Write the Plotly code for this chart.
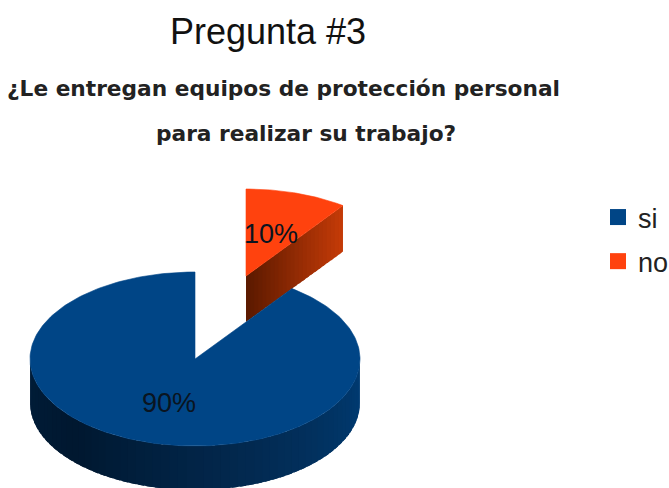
import numpy as np
import plotly.graph_objects as go

categories = ["si", "no"]
values = [90, 10]
colors = ["#004586", "#ff420e"]
title = "Pregunta #3"
subtitle = ["¿Le entregan equipos de protección personal", "para realizar su trabajo?"]

W, H = 669, 488
RX, RY, DEPTH, DEPTH_NO = 165, 87, 44, 46
CENTERS = {"si": (195, 359), "no": (246, 276)}
LABEL_POS = {"si": (169, 405), "no": (271, 236)}

BLUE_SIDE_ANGLES = [90, 130, 180, 225, 270]
BLUE_SIDE_RGB = [(0, 60, 116), (2, 50, 96), (2, 36, 70), (0, 24, 48), (0, 30, 58)]
ORANGE_FACE_RGB = [(92, 26, 0), (200, 60, 8)]

total = sum(values)
ends = np.cumsum(values) / total * 360
# 'no' runs clockwise from 12 o'clock; 'si' fills the remaining turn
spans = {"no": (0.0, float(ends[1] - ends[0])), "si": (float(ends[1] - ends[0]), 360.0)}


def rim(center, theta_deg, drop=0):
    t = np.radians(theta_deg)
    return center[0] + RX * np.sin(t), center[1] - RY * np.cos(t) + drop


fig = go.Figure()


def poly(xs, ys, color, name=None, lw=0.6):
    fig.add_trace(go.Scatter(
        x=list(xs) + [xs[0]], y=list(ys) + [ys[0]], mode="lines", fill="toself",
        fillcolor=color, line=dict(color=color, width=lw),
        hoverinfo="skip", showlegend=False, name=name))


# orange wedge: cut face with gradient, then top
c_no = CENTERS["no"]
a0, a1 = spans["no"]
rx1, ry1 = rim(c_no, a1)
n = 24
for i in range(n):
    f0, f1 = i / n, (i + 1.6) / n
    f1 = min(f1, 1)
    xa, ya = c_no[0] + (rx1 - c_no[0]) * f0, c_no[1] + (ry1 - c_no[1]) * f0
    xb, yb = c_no[0] + (rx1 - c_no[0]) * f1, c_no[1] + (ry1 - c_no[1]) * f1
    col = [int(ORANGE_FACE_RGB[0][k] + (ORANGE_FACE_RGB[1][k] - ORANGE_FACE_RGB[0][k]) * f0) for k in range(3)]
    poly([xa, xb, xb, xa], [ya, yb, yb + DEPTH_NO, ya + DEPTH_NO], f"rgb({col[0]},{col[1]},{col[2]})", lw=0)
th = np.linspace(a0, a1, 40)
px, py = rim(c_no, th)
poly([c_no[0]] + list(px), [c_no[1]] + list(py), colors[1], "no")

# blue wedge: outer side with gradient, then top
c_si = CENTERS["si"]
b0, b1 = spans["si"]
step = 3
for a in np.arange(90, 270, step):
    x0, y0 = rim(c_si, a)
    x1, y1 = rim(c_si, a + step * 1.7)
    col = [int(np.interp(a, BLUE_SIDE_ANGLES, [c[k] for c in BLUE_SIDE_RGB])) for k in range(3)]
    poly([x0, x1, x1, x0], [y0, y1, y1 + DEPTH, y0 + DEPTH], f"rgb({col[0]},{col[1]},{col[2]})", lw=0)
th = np.linspace(b0, b1, 240)
px, py = rim(c_si, th)
poly([c_si[0]] + list(px), [c_si[1]] + list(py), colors[0], "si")

# percent labels
for cat, val in zip(categories, values):
    lx, ly = LABEL_POS[cat]
    fig.add_trace(go.Scatter(
        x=[lx], y=[ly], mode="text", text=[f"{round(val / total * 100)}%"],
        textposition="middle center", hoverinfo="skip", showlegend=False,
        textfont=dict(family="Liberation Sans", size=27, color="#0a1420")))

# legend entries
for i, (cat, col) in enumerate(zip(categories, colors)):
    fig.add_trace(go.Scatter(
        x=[None], y=[None], mode="markers", name=cat, legendgroup=cat,
        marker=dict(symbol="square", size=19, color=col)))

fig.add_annotation(x=283, y=88, xref="x", yref="y", text=f"<b>{subtitle[0]}</b>", showarrow=False,
                   font=dict(family="DejaVu Sans", size=21.7, color="#222222"))
fig.add_annotation(x=306, y=133, xref="x", yref="y", text=f"<b>{subtitle[1]}</b>", showarrow=False,
                   font=dict(family="DejaVu Sans", size=21.7, color="#222222"))

fig.update_layout(
    width=W, height=H, autosize=False, paper_bgcolor="white", plot_bgcolor="white",
    margin=dict(l=0, r=0, t=0, b=0, autoexpand=False),
    title=dict(text=title, x=268 / W, y=1 - 31 / H, xanchor="center", yanchor="middle",
               font=dict(family="Liberation Sans", size=36, color="#111111")),
    xaxis=dict(range=[0, W], visible=False, fixedrange=True),
    yaxis=dict(range=[H, 0], visible=False, fixedrange=True),
    legend=dict(x=598 / W, y=1 - 193 / H, xanchor="left", yanchor="top", traceorder="grouped",
                tracegroupgap=6, font=dict(family="Liberation Sans", size=27, color="#222222"),
                bgcolor="rgba(0,0,0,0)", itemclick=False, itemdoubleclick=False),
)

fig.write_html("out.html", post_script="document.body.style.margin='0';",
               config={"displayModeBar": False})
